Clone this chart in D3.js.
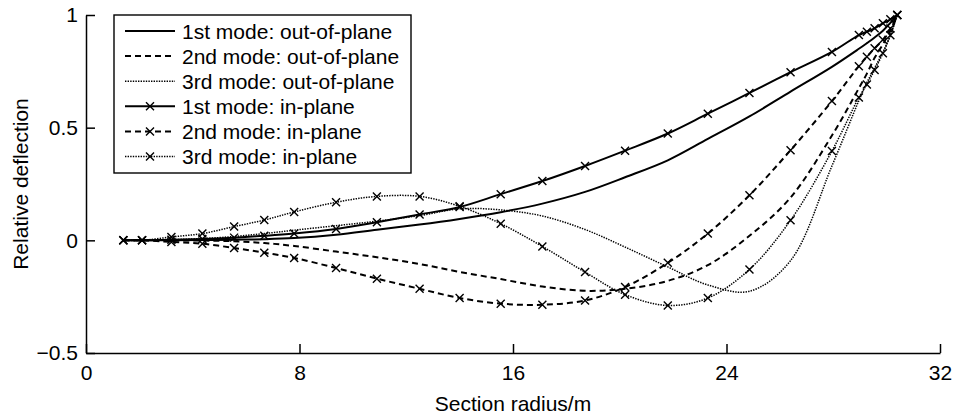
<!DOCTYPE html>
<html>
<head>
<meta charset="utf-8">
<script src="https://cdn.jsdelivr.net/npm/d3@7"></script>
<style>
  body { margin: 0; background: #fff; }
  svg { display: block; font-family: "Liberation Sans", Arial, Helvetica, sans-serif; }
</style>
</head>
<body>
<svg id="chart" width="954" height="416"></svg>
<script>
// section radius (m) at which the mode shapes are sampled
const radius = [1.4, 2.1, 3.2, 4.36, 5.55, 6.68, 7.8, 9.37, 10.9, 12.5, 14.0, 15.54, 17.1, 18.7,
  20.2, 21.8, 23.3, 24.86, 26.4, 27.95, 28.96, 29.26, 29.55, 29.86, 30.14, 30.4];

const outPlane1 = [0, 0, 0, 0.001, 0.003, 0.005, 0.01, 0.025, 0.047, 0.07, 0.095, 0.125, 0.163, 0.215,
  0.28, 0.355, 0.45, 0.55, 0.66, 0.77, 0.85, 0.875, 0.9, 0.93, 0.965, 1.0];
const outPlane2 = [0, 0, 0, -0.001, -0.004, -0.012, -0.025, -0.05, -0.075, -0.105, -0.14, -0.172, -0.205, -0.224,
  -0.215, -0.18, -0.11, 0.02, 0.19, 0.465, 0.675, 0.74, 0.81, 0.87, 0.93, 1.0];
const outPlane3 = [0, 0, 0.003, 0.008, 0.017, 0.03, 0.045, 0.065, 0.085, 0.11, 0.14, 0.135, 0.108, 0.048,
  -0.03, -0.118, -0.198, -0.226, -0.09, 0.33, 0.62, 0.7, 0.765, 0.835, 0.91, 1.0];
const inPlane1 = [0, 0, 0.003, 0.006, 0.012, 0.02, 0.03, 0.05, 0.08, 0.115, 0.148, 0.205, 0.263, 0.33,
  0.398, 0.474, 0.562, 0.654, 0.746, 0.836, 0.911, 0.926, 0.941, 0.963, 0.981, 1.0];
const inPlane2 = [0, 0, -0.007, -0.015, -0.034, -0.055, -0.078, -0.123, -0.17, -0.215, -0.256, -0.281, -0.286, -0.267,
  -0.207, -0.1, 0.03, 0.2, 0.4, 0.618, 0.773, 0.815, 0.852, 0.89, 0.94, 1.0];
const inPlane3 = [0, 0, 0.015, 0.03, 0.061, 0.09, 0.126, 0.169, 0.195, 0.195, 0.151, 0.074, -0.027, -0.141,
  -0.241, -0.289, -0.256, -0.129, 0.089, 0.396, 0.634, 0.692, 0.756, 0.83, 0.91, 1.0];

const labels = ["1st mode: out-of-plane", "2nd mode: out-of-plane", "3rd mode: out-of-plane",
  "1st mode: in-plane", "2nd mode: in-plane", "3rd mode: in-plane"];

const xTicks = [0, 8, 16, 24, 32];
const yTicks = [-0.5, 0, 0.5, 1];

const series = [
  { name: labels[0], values: outPlane1, style: "solid", marks: false },
  { name: labels[1], values: outPlane2, style: "dashed", marks: false },
  { name: labels[2], values: outPlane3, style: "dotted", marks: false },
  { name: labels[3], values: inPlane1, style: "solid", marks: true },
  { name: labels[4], values: inPlane2, style: "dashed", marks: true },
  { name: labels[5], values: inPlane3, style: "dotted", marks: true }
];

const styles = {
  solid: { w: 2, dash: null },
  dashed: { w: 2, dash: "6,4" },
  dotted: { w: 1.5, dash: "1.4,1.2" }
};

const svg = d3.select("#chart");
const margin = { left: 86, right: 14, top: 15, bottom: 63 };
const width = 954, height = 416;

const x = d3.scaleLinear().domain([0, 32]).range([margin.left, width - margin.right]);
const y = d3.scaleLinear().domain([-0.5, 1]).range([height - margin.bottom, margin.top]);

const line = d3.line()
  .x((d, i) => x(radius[i]))
  .y(d => y(d))
  .curve(d3.curveCatmullRom.alpha(0.5));

// axes, ticks pointing inward
const xAxis = svg.append("g")
  .attr("transform", `translate(0,${y(-0.5)})`)
  .call(d3.axisBottom(x).tickValues(xTicks).tickFormat(d3.format("")).tickSize(-9).tickSizeOuter(0).tickPadding(12));
const yAxis = svg.append("g")
  .attr("transform", `translate(${x(0)},0)`)
  .call(d3.axisLeft(y).tickValues(yTicks).tickFormat(d3.format("")).tickSize(-9).tickSizeOuter(0).tickPadding(8));

[xAxis, yAxis].forEach(g => {
  g.selectAll("path, line").attr("stroke", "#000").attr("stroke-width", 1.5);
  g.selectAll("text").attr("fill", "#000").style("font-size", "21px");
  g.attr("font-family", null);
});

// curves
const cross = (g, cx, cy) => {
  const s = 4;
  g.append("path")
    .attr("d", `M${cx - s},${cy - s}L${cx + s},${cy + s}M${cx - s},${cy + s}L${cx + s},${cy - s}`)
    .attr("stroke", "#000").attr("stroke-width", 1.4).attr("fill", "none");
};

series.forEach(s => {
  const st = styles[s.style];
  svg.append("path")
    .datum(s.values)
    .attr("d", line)
    .attr("fill", "none")
    .attr("stroke", "#000")
    .attr("stroke-width", st.w)
    .attr("stroke-dasharray", st.dash);
  if (s.marks) {
    const g = svg.append("g");
    s.values.forEach((v, i) => cross(g, x(radius[i]), y(v)));
  }
});

// legend
const lg = svg.append("g");
lg.append("rect")
  .attr("x", 114).attr("y", 15).attr("width", 297).attr("height", 158)
  .attr("fill", "#fff").attr("stroke", "#000").attr("stroke-width", 1.4);

series.forEach((s, i) => {
  const cy = 31 + i * 25.1;
  const st = styles[s.style];
  lg.append("line")
    .attr("x1", 125).attr("x2", 175).attr("y1", cy).attr("y2", cy)
    .attr("stroke", "#000").attr("stroke-width", st.w)
    .attr("stroke-dasharray", st.dash);
  if (s.marks) cross(lg, 150, cy);
  lg.append("text")
    .attr("x", 182).attr("y", cy).attr("dy", "0.36em")
    .style("font-size", "21px")
    .text(s.name);
});

// axis titles
svg.append("text")
  .attr("x", (x(0) + x(32)) / 2).attr("y", 411)
  .attr("text-anchor", "middle")
  .style("font-size", "21px")
  .text("Section radius/m");

svg.append("text")
  .attr("transform", `translate(28,${(y(1) + y(-0.5)) / 2}) rotate(-90)`)
  .attr("text-anchor", "middle")
  .style("font-size", "21px")
  .text("Relative deflection");
</script>
</body>
</html>
